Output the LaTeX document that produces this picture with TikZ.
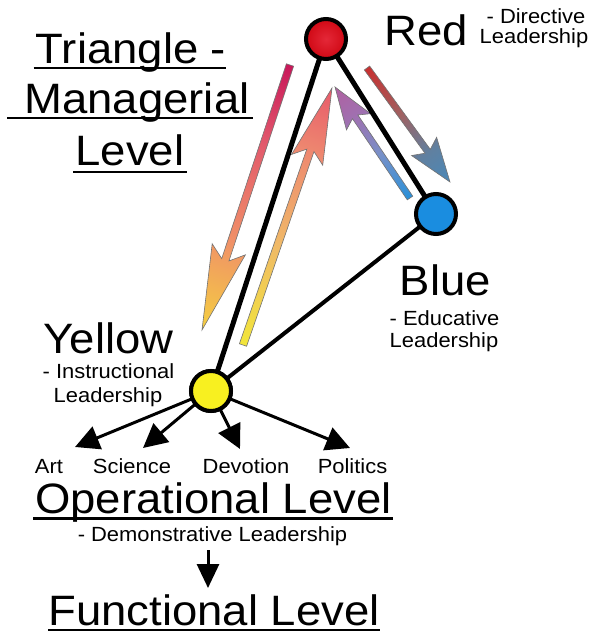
\documentclass[tikz,border=0pt]{standalone}
\usepackage{fontspec}
\setmainfont{Liberation Sans}[FakeStretch=1.07]
\usetikzlibrary{arrows.meta}
\definecolor{ldA}{HTML}{C8185A}
\definecolor{ldB}{HTML}{E25A6C}
\definecolor{ldC}{HTML}{F09068}
\definecolor{ldD}{HTML}{F5D040}
\definecolor{luA}{HTML}{F2E63A}
\definecolor{luB}{HTML}{F0B868}
\definecolor{luC}{HTML}{EE8A70}
\definecolor{luD}{HTML}{E85A6A}
\definecolor{puA}{HTML}{2A90D8}
\definecolor{puB}{HTML}{7890C8}
\definecolor{puC}{HTML}{A070B0}
\definecolor{puD}{HTML}{B060A0}
\definecolor{rbA}{HTML}{C83030}
\definecolor{rbB}{HTML}{A06060}
\definecolor{rbC}{HTML}{6080A0}
\definecolor{rbD}{HTML}{4A88B8}
\definecolor{redfill}{HTML}{D00814}
\definecolor{redhi}{HTML}{E42838}
\definecolor{bluefill}{HTML}{1A8DE0}
\definecolor{yelfill}{HTML}{F8F020}
\pgfdeclarehorizontalshading{longdown}{100bp}{color(0bp)=(ldA); color(25bp)=(ldA); color(40bp)=(ldB); color(58bp)=(ldC); color(75bp)=(ldD); color(100bp)=(ldD)}
\pgfdeclarehorizontalshading{longup}{100bp}{color(0bp)=(luA); color(25bp)=(luA); color(45bp)=(luB); color(62bp)=(luC); color(75bp)=(luD); color(100bp)=(luD)}
\pgfdeclarehorizontalshading{purpup}{100bp}{color(0bp)=(puA); color(25bp)=(puA); color(45bp)=(puB); color(62bp)=(puC); color(75bp)=(puD); color(100bp)=(puD)}
\pgfdeclarehorizontalshading{redblue}{100bp}{color(0bp)=(rbA); color(25bp)=(rbA); color(45bp)=(rbB); color(62bp)=(rbC); color(75bp)=(rbD); color(100bp)=(rbD)}
% #1,#2 tail; #3,#4 tip; #5 shading; #6 shaft half width; #7 head length; #8 barb sweep; #9 head half width
\newcommand\gradarrow[9]{%
  \pgfmathsetmacro\gaAng{atan2(-(#4-#2),#3-#1)}%
  \pgfmathsetmacro\gaLen{veclen(#3-#1,#4-#2)}%
  \begin{scope}[transform canvas={shift={(#1,#2)},rotate=\gaAng}]
    \shadedraw[shading=#5, draw=black!55, line width=0.6pt, line join=miter]
      (0,-#6) -- ({\gaLen-#7},-#6) -- ({\gaLen-#7-#8},-#9) -- (\gaLen,0)
      -- ({\gaLen-#7-#8},#9) -- ({\gaLen-#7},#6) -- (0,#6) -- cycle;
  \end{scope}}
\tikzset{
  big/.style={inner sep=0pt, anchor=base, font=\fontsize{42.5}{48}\selectfont},
  small/.style={inner sep=0pt, anchor=base, font=\fontsize{20.5}{24}\selectfont},
  uline/.style={line width=2.4pt},
  tri/.style={line width=5pt},
  dot/.style={circle, minimum size=40pt, inner sep=0pt, line width=4pt, draw=black},
  fork/.style={line width=3pt, -{Triangle[length=24pt,width=24pt]}, shorten <=-2pt}
}
\begin{document}
\begin{tikzpicture}[x=1pt,y=-1pt]
\fill[white] (0,0) rectangle (595,632);
\useasboundingbox (0,0) rectangle (595,632);

% coloured arrows
\gradarrow{290}{65}{202}{330}{longdown}{3.8}{74}{11}{17.5}
\gradarrow{243}{345}{332}{88}{longup}{3.8}{66}{10}{16.5}
\gradarrow{410}{198}{335}{87}{purpup}{3.3}{36}{6}{14.5}
\gradarrow{367}{68}{450}{182}{redblue}{3.3}{38}{6}{15.5}

% triangle
\coordinate (Rc) at (326,39);
\coordinate (Bc) at (436,214);
\coordinate (Yc) at (211,391);
\draw[tri] (Rc) -- (Yc);
\draw[tri] (Rc) -- (Bc);
\draw[line width=4pt] (Bc) -- (Yc);

% fork arrows
\coordinate (artT) at (75,447);
\coordinate (sciT) at (143,448);
\coordinate (devT) at (240,449);
\coordinate (polT) at (350,448);
\node[dot, fill=yelfill] (Y) at (Yc) {};
\draw[fork] (Y) -- (artT);
\draw[fork] (Y) -- (sciT);
\draw[fork] (Y) -- (devT);
\draw[fork] (Y) -- (polT);
\node[dot, fill=yelfill] at (Yc) {};

\node[dot, inner color=redhi, outer color=redfill] (R) at (Rc) {};
\node[dot, fill=bluefill] (B) at (Bc) {};

% title
\node[big] (t1) at (131,63) {Triangle -};
\node[big] (t2) at (137,113) {Managerial};
\node[big] (t3) at (130,165) {Level};
\draw[uline] ([xshift=-2pt,yshift=-5pt]t1.base west) -- ([yshift=-5pt]t1.base east);
\draw[uline] ([xshift=-17pt,yshift=-5pt]t2.base west) -- ([xshift=3pt,yshift=-5pt]t2.base east);
\draw[uline] ([xshift=-2pt,yshift=-7pt]t3.base west) -- ([xshift=2pt,yshift=-7pt]t3.base east);

% red
\node[big] (rl) at (426.5,45) {Red};
\node[small] (rl1) at (536,23) {- Directive};
\node[small] (rl2) at (534,43) {Leadership};

% blue
\node[big] (bl) at (445.5,295) {Blue};
\node[small] (bl1) at (444.5,325) {- Educative};
\node[small] (bl2) at (444,347) {Leadership};

% yellow
\node[big] (yl) at (108.5,353) {Yellow};
\node[small] (yl1) at (108.5,378) {- Instructional};
\node[small] (yl2) at (108,402) {Leadership};

% operational
\node[small] (art) at (49,473) {Art};
\node[small] (sci) at (132,473) {Science};
\node[small] (dev) at (246,473) {Devotion};
\node[small] (pol) at (352.5,473) {Politics};
\node[big] (op) at (213.5,513) {Operational Level};
\draw[uline] ([xshift=-2pt,yshift=-5.5pt]op.base west) -- ([xshift=1pt,yshift=-5.5pt]op.base east);
\node[small] (demo) at (212.5,541) {- Demonstrative Leadership};

\coordinate (dA) at (208,550);
\coordinate (dB) at (208,588);
\draw[line width=3pt, -{Triangle[length=24pt,width=22pt]}] (dA) -- (dB);

\node[big, text depth=0pt] (fn) at (214,625) {Functional Level};
\draw[uline] ([yshift=-5pt]fn.base west) -- ([yshift=-5pt]fn.base east);
\end{tikzpicture}
\end{document}
